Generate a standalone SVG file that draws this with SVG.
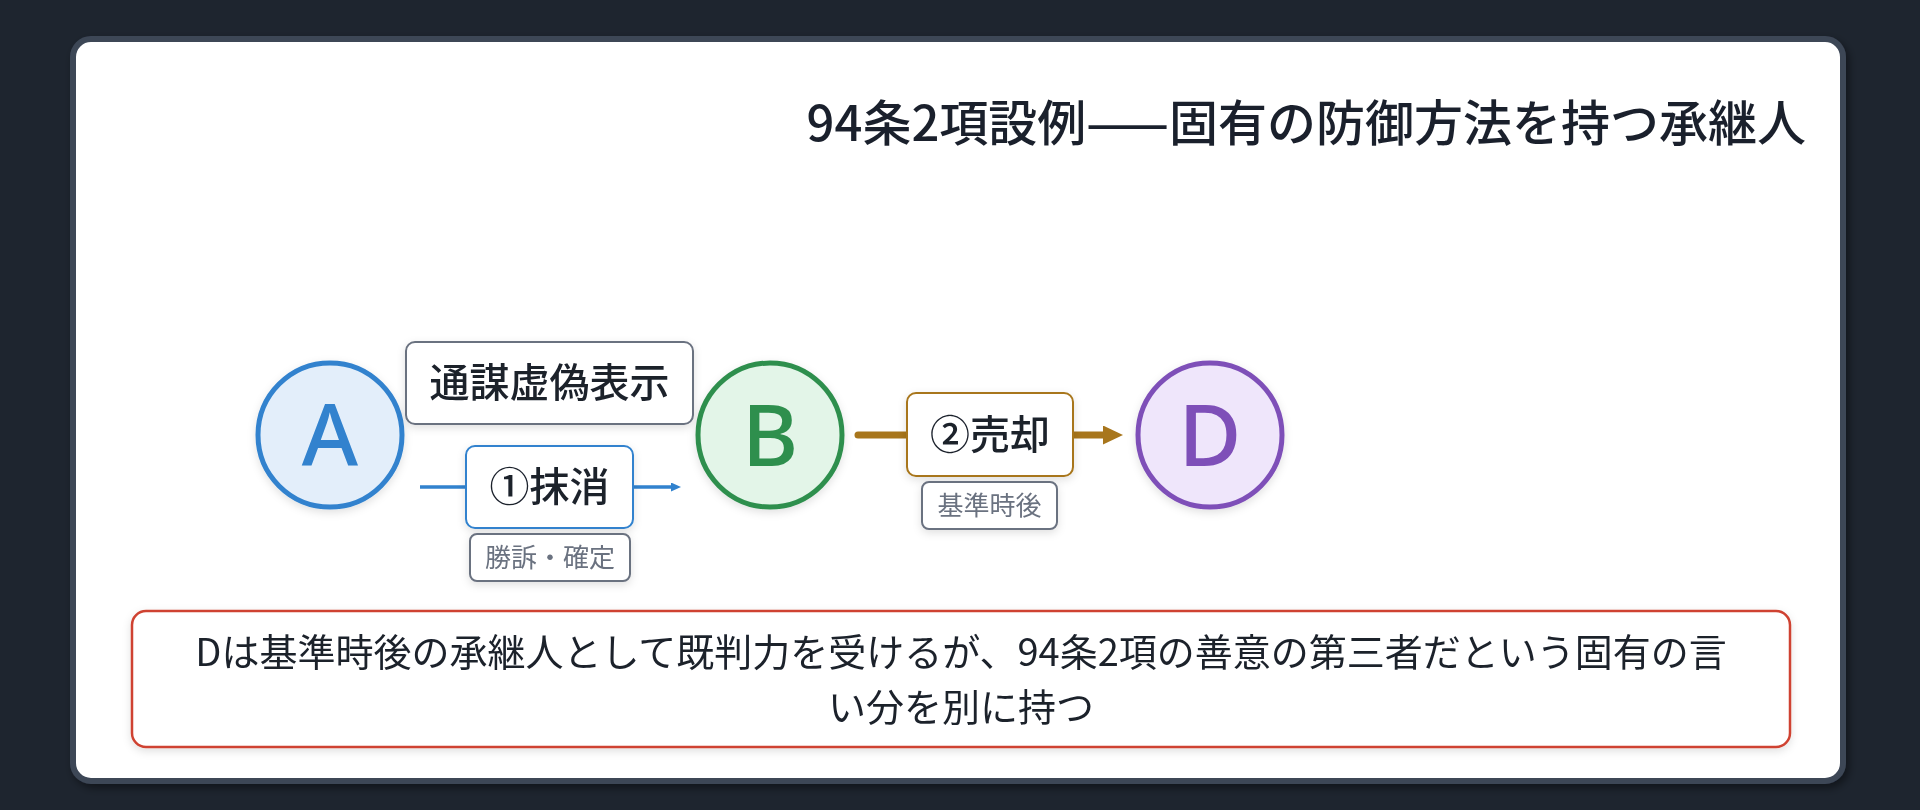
<svg xmlns="http://www.w3.org/2000/svg" width="1920" height="810" viewBox="0 0 1920 810">
  <style>
    text { font-family: "Noto Sans CJK JP", "Noto Sans", sans-serif; }
    .dark { fill: #1a202c; }
    .lbl { font-size: 40px; font-weight: 500; text-anchor: middle; fill: #1a202c; }
    .sub { font-size: 26px; text-anchor: middle; fill: #6b7280; }
    .sub-box { fill: #ffffff; stroke: #6b7280; stroke-width: 2; }
    .circ-txt { font-size: 86px; font-weight: 500; text-anchor: middle; font-family: "Noto Sans", "Noto Sans CJK JP", sans-serif; }
    .note { font-size: 38px; text-anchor: middle; fill: #1a202c; }
  </style>
  <defs>
    <filter id="sh" x="-20%" y="-20%" width="140%" height="150%">
      <feDropShadow dx="0" dy="3" stdDeviation="4" flood-color="#000000" flood-opacity="0.12"/>
    </filter>
    <filter id="shp" x="-5%" y="-5%" width="110%" height="112%">
      <feDropShadow dx="3" dy="4" stdDeviation="4" flood-color="#000000" flood-opacity="0.45"/>
    </filter>
    <marker id="arrBlue" markerUnits="userSpaceOnUse" markerWidth="10" markerHeight="9" refX="3" refY="4.5" orient="auto">
      <path d="M0,0 L10,4.5 L0,9 z" fill="#3182ce"/>
    </marker>
    <marker id="arrBrown" markerUnits="userSpaceOnUse" markerWidth="20" markerHeight="19" refX="5" refY="9.5" orient="auto">
      <path d="M0,0 L20,9.5 L0,19 z" fill="#a8761c"/>
    </marker>
  </defs>

  <rect x="0" y="0" width="1920" height="810" fill="#1e252f"/>
  <rect x="73" y="39" width="1770" height="742" rx="18" fill="#ffffff" stroke="#3d4757" stroke-width="6" filter="url(#shp)"/>

  <text x="1806" y="141" font-size="49" font-weight="500" text-anchor="end" class="dark">94条2項設例——固有の防御方法を持つ承継人</text>

  <g id="connectors">
    <path d="M420,487 L674,487" fill="none" stroke="#3182ce" stroke-width="3.5" marker-end="url(#arrBlue)"/>
    <path d="M858,435 L1108,435" fill="none" stroke="#a8761c" stroke-width="7" stroke-linecap="round" marker-end="url(#arrBrown)"/>
  </g>

  <g id="node-A" filter="url(#sh)">
    <circle cx="330" cy="435" r="72" fill="#e3eefa" stroke="#3182ce" stroke-width="5"/>
    <text x="330" y="466" class="circ-txt" fill="#3182ce">A</text>
  </g>
  <g id="node-B" filter="url(#sh)">
    <circle cx="770" cy="435" r="72" fill="#e3f5e8" stroke="#2f8f4e" stroke-width="5"/>
    <text x="770" y="466" class="circ-txt" fill="#2f8f4e">B</text>
  </g>
  <g id="node-D" filter="url(#sh)">
    <circle cx="1210" cy="435" r="72" fill="#efe6fb" stroke="#7e4fb8" stroke-width="5"/>
    <text x="1210" y="466" class="circ-txt" fill="#7e4fb8">D</text>
  </g>

  <g id="label-tsubo" filter="url(#sh)">
    <rect x="406" y="342" width="287" height="82" rx="9" fill="#ffffff" stroke="#6b7280" stroke-width="2"/>
    <text x="549.5" y="397" class="lbl">通謀虚偽表示</text>
  </g>
  <g id="label-massho" filter="url(#sh)">
    <rect x="466" y="446" width="167" height="82" rx="9" fill="#ffffff" stroke="#3182ce" stroke-width="2"/>
    <text x="549.5" y="501" class="lbl">①抹消</text>
  </g>
  <g id="label-shoso" filter="url(#sh)">
    <rect x="470" y="534" width="160" height="47" rx="7" class="sub-box"/>
    <text x="550" y="567" class="sub">勝訴・確定</text>
  </g>
  <g id="label-baikyaku" filter="url(#sh)">
    <rect x="907" y="393" width="166" height="83" rx="9" fill="#ffffff" stroke="#a8761c" stroke-width="2"/>
    <text x="990" y="449" class="lbl">②売却</text>
  </g>
  <g id="label-kijun" filter="url(#sh)">
    <rect x="922" y="482" width="135" height="47" rx="7" class="sub-box"/>
    <text x="989.5" y="515" class="sub">基準時後</text>
  </g>

  <g id="note" filter="url(#sh)">
    <rect x="132" y="611" width="1658" height="136" rx="14" fill="#ffffff" stroke="#cf4330" stroke-width="2.5"/>
    <text x="961" y="666" class="note">Dは基準時後の承継人として既判力を受けるが、94条2項の善意の第三者だという固有の言</text>
    <text x="961" y="721" class="note">い分を別に持つ</text>
  </g>
</svg>
